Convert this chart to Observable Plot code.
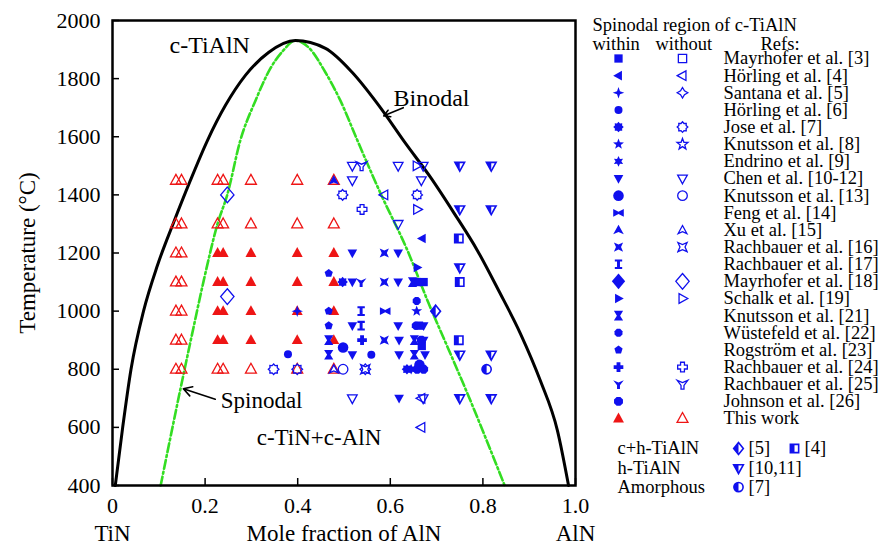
<!DOCTYPE html>
<html><head><meta charset="utf-8">
<script src="https://cdn.jsdelivr.net/npm/d3@7"></script>
<script src="https://cdn.jsdelivr.net/npm/@observablehq/plot@0.6"></script>
<style>
body{margin:0;background:#fff;}
#wrap{position:relative;width:879px;height:549px;background:#fff;}
#wrap svg, #wrap svg text{font-family:"Liberation Serif","Times New Roman",serif !important;}
#main{position:absolute;left:0;top:0;}
#legend{position:absolute;left:585px;top:0;}
</style></head><body><div id="wrap"><div id="main"></div><div id="legend"></div></div>
<script>
// ---------------- DATA ----------------
const xTicks = [0, 0.2, 0.4, 0.6, 0.8, 1.0];
const yTicks = [400, 600, 800, 1000, 1200, 1400, 1600, 1800, 2000];

const binodal = [[0.006,400],[0.022,600],[0.04,800],[0.067,1000],[0.097,1157],[0.132,1305],[0.168,1449],[0.205,1587],[0.244,1708],[0.287,1811],[0.337,1890],[0.395,1931],[0.46,1904],[0.518,1821],[0.575,1708],[0.633,1577],[0.687,1460],[0.737,1339],[0.788,1209],[0.834,1071],[0.881,923],[0.924,761],[0.961,589],[0.985,400]];
const spinodal = [[0.104,400],[0.147,734],[0.156,802],[0.175,944],[0.197,1105],[0.227,1301],[0.248,1401],[0.276,1587],[0.309,1725],[0.341,1835],[0.369,1897],[0.395,1931],[0.425,1905],[0.46,1821],[0.492,1725],[0.529,1587],[0.579,1405],[0.637,1209],[0.683,1026],[0.724,875],[0.762,734],[0.847,400]];

const refNames = ["Mayrhofer et al. [3]","Hörling et al. [4]","Santana et al. [5]","Hörling et al. [6]","Jose et al. [7]","Knutsson et al. [8]","Endrino et al. [9]","Chen et al. [10-12]","Knutsson et al. [13]","Feng et al. [14]","Xu et al. [15]","Rachbauer et al. [16]","Rachbauer et al. [17]","Mayrhofer et al. [18]","Schalk et al. [19]","Knutsson et al. [21]","Wüstefeld et al. [22]","Rogström et al. [23]","Rachbauer et al. [24]","Rachbauer et al. [25]","Johnson et al. [26]","This work"];

const mayrhofer3_in = [[0.658,1100],[0.672,1100],[0.662,950],[0.668,880]];
const mayrhofer3_out = [];
const horling4_in = [[0.669,1250]];
const horling4_out = [[0.587,1400],[0.667,700],[0.667,600]];
const santana5_in = [[0.399,1000]];
const santana5_out = [];
const horling6_in = [[0.379,852],[0.559,850]];
const jose7_in = [[0.497,1100],[0.636,800]];
const jose7_out = [[0.497,1400],[0.658,1400],[0.348,800],[0.399,800],[0.546,800]];
const knutsson8_in = [[0.657,1000]];
const knutsson8_out = [];
const endrino9_in = [[0.645,800]];
const chen_in = [[0.518,1200],[0.617,1200],[0.518,1100],[0.617,1100],[0.518,950],[0.617,950],[0.619,900],[0.518,850],[0.619,850],[0.619,700],[0.672,950],[0.672,900],[0.675,850]];
const chen_out = [[0.518,1500],[0.617,1500],[0.671,1500],[0.518,1450],[0.667,1450],[0.617,1300],[0.518,700],[0.671,700]];
const knutsson13_in = [[0.498,875],[0.663,815]];
const knutsson13_out = [[0.498,800]];
const feng14_in = [[0.589,1000]];
const xu15_in = [[0.478,1450]];
const xu15_out = [[0.478,800]];
const rach16_in = [[0.587,1200],[0.587,1100],[0.587,900]];
const rach16_out = [[0.546,800]];
const rach17_in = [[0.537,1000],[0.537,950]];
const mayrhofer18_in = [];
const mayrhofer18_out = [[0.248,1400],[0.248,1050]];
const schalk19_in = [[0.658,1150]];
const schalk19_out = [[0.657,1500],[0.658,1350]];
const knutsson21_in = [[0.467,900],[0.467,850],[0.652,900],[0.652,850],[0.648,1100]];
const wustefeld22_in = [[0.657,1035],[0.655,950]];
const rogstrom23_in = [[0.467,1130],[0.467,1000],[0.467,950]];
const rach24_in = [[0.539,900]];
const rach24_out = [[0.539,1350]];
const rach25_in = [[0.537,1100]];
const rach25_out = [[0.538,1500]];
const johnson26_in = [[0.667,900],[0.658,800],[0.672,800]];
const thisWork_in = [[0.227,1200],[0.239,1200],[0.299,1200],[0.399,1200],[0.478,1200],
  [0.227,1100],[0.239,1100],[0.299,1100],[0.399,1100],[0.478,1100],
  [0.227,1000],[0.239,1000],[0.299,1000],[0.399,1000],[0.478,1000],
  [0.227,900],[0.239,900],[0.299,900],[0.399,900],[0.478,900]];
const thisWork_out = [[0.137,1450],[0.149,1450],[0.227,1450],[0.239,1450],[0.299,1450],[0.399,1450],[0.478,1450],
  [0.137,1300],[0.149,1300],[0.227,1300],[0.239,1300],[0.299,1300],[0.399,1300],[0.478,1300],
  [0.137,1200],[0.149,1200],[0.137,1100],[0.149,1100],[0.137,1000],[0.149,1000],[0.137,900],[0.149,900],
  [0.137,800],[0.149,800],[0.227,800],[0.239,800],[0.299,800],[0.399,800],[0.478,800]];
const chTiAlN_5 = [[0.698,1000]];
const chTiAlN_4 = [[0.748,1250],[0.75,1100],[0.748,900]];
const hTiAlN_10_11 = [[0.75,1500],[0.818,1500],[0.75,1350],[0.818,1350],[0.75,1150],[0.75,850],[0.818,850],[0.75,700],[0.818,700]];
const amorphous_7 = [[0.808,800]];

// ---------------- SYMBOLS (style) ----------------
const BLUE = "#1010ee", RED = "#ee1515", GREEN = "#33dd22", FONT = "Liberation Serif";
function shape(...polys){
  return {draw(ctx,size){
    const r = Math.sqrt(size/Math.PI);
    for (const pts of polys){
      pts.forEach(([a,b],i)=> i ? ctx.lineTo(a*r,b*r) : ctx.moveTo(a*r,b*r));
      ctx.closePath();
    }
  }};
}
function starPts(n, ro, ri){ const p=[]; for(let i=0;i<2*n;i++){const a=-Math.PI/2+i*Math.PI/n, rr=i%2?ri:ro; p.push([rr*Math.cos(a), rr*Math.sin(a)]);} return p; }
function ngonPts(n, ro, rot=-Math.PI/2){ const p=[]; for(let i=0;i<n;i++){const a=rot+i*2*Math.PI/n; p.push([ro*Math.cos(a), ro*Math.sin(a)]);} return p; }
const SYM = {
  square: shape([[-0.9,-0.9],[0.9,-0.9],[0.9,0.9],[-0.9,0.9]]),
  halfSquare: shape([[-0.9,-0.9],[0,-0.9],[0,0.9],[-0.9,0.9]]),
  triUp: shape([[0,-1.15],[1.05,0.75],[-1.05,0.75]]),
  triDown: shape([[0,1.15],[1.05,-0.75],[-1.05,-0.75]]),
  halfTriDown: shape([[0,1.15],[-1.05,-0.75],[0,-0.75]]),
  triLeft: shape([[-1.15,0],[0.75,-1.05],[0.75,1.05]]),
  triRight: shape([[1.15,0],[-0.75,-1.05],[-0.75,1.05]]),
  diamond: shape([[0,-1.3],[1.05,0],[0,1.3],[-1.05,0]]),
  bigDiamond: shape([[0,-1.7],[1.45,0],[0,1.7],[-1.45,0]]),
  halfDiamond: shape([[0,-1.3],[0,1.3],[-1.05,0]]),
  star4: shape(starPts(4,1.25,0.45)),
  star4o: shape(starPts(4,1.15,0.6)),
  star5: shape(starPts(5,1.25,0.52)),
  hexagram: shape(starPts(6,1.15,0.62)),
  gear: shape(starPts(8,1.15,0.85)),
  pentagon: shape(ngonPts(5,1.05)),
  octagon: shape(ngonPts(8,1.05,Math.PI/8)),
  bowtie: shape([[-1.15,-0.85],[0,-0.25],[1.15,-0.85],[1.15,0.85],[0,0.25],[-1.15,0.85]]),
  hourglass: shape([[-1,-1.05],[1,-1.05],[0.35,0],[1,1.05],[-1,1.05],[-0.35,0]]),
  ibeam: shape([[-0.8,-1.05],[0.8,-1.05],[0.8,-0.6],[0.32,-0.6],[0.32,0.6],[0.8,0.6],[0.8,1.05],[-0.8,1.05],[-0.8,0.6],[-0.32,0.6],[-0.32,-0.6],[-0.8,-0.6]]),
  notchSquare: shape([[-1,-1],[0,-0.55],[1,-1],[0.55,0],[1,1],[0,0.55],[-1,1],[-0.55,0]]),
  roundCross: shape([[-0.42,-1.05],[0.42,-1.05],[0.42,-0.42],[1.05,-0.42],[1.05,0.42],[0.42,0.42],[0.42,1.05],[-0.42,1.05],[-0.42,0.42],[-1.05,0.42],[-1.05,-0.42],[-0.42,-0.42]]),
  wyeDown: shape([[-1.15,-0.85],[0,-0.35],[1.15,-0.85],[0.32,0.25],[0.32,1.05],[-0.32,1.05],[-0.32,0.25]]),
  xuTri: shape([[0,-1.15],[1.15,0.95],[0,0.45],[-1.15,0.95]]),
  circle: d3.symbolCircle,
  halfCircle: {draw(ctx,size){const r=Math.sqrt(size/Math.PI); ctx.moveTo(0,-r); ctx.arc(0,0,r,-Math.PI/2,Math.PI/2,true); ctx.closePath();}}
};
const F = (s, r=4.6, c=BLUE) => ({mode:"fill", s:SYM[s], r, c});
const O = (s, r=4.6, c=BLUE) => ({mode:"open", s:SYM[s], r, c});
const H = (s, h, r=4.6, c=BLUE) => ({mode:"half", s:SYM[s], h:SYM[h], r, c});

const inStyles = [F("square"),F("triLeft"),F("star4"),F("circle",4),F("gear"),F("star5"),F("hexagram"),F("triDown"),F("circle",5.3),F("bowtie"),F("xuTri"),F("notchSquare"),F("ibeam"),F("bigDiamond"),F("triRight"),F("hourglass"),F("octagon",4.1),F("pentagon",4.1),F("roundCross"),F("wyeDown"),F("octagon"),F("triUp",5.2,RED)];
const outStyles = [O("square"),O("triLeft"),O("star4o"),null,O("gear"),O("star5"),null,O("triDown"),O("circle",4.8),null,O("xuTri",3.8),O("notchSquare"),null,O("bigDiamond"),O("triRight"),null,null,null,O("roundCross"),O("wyeDown"),null,O("triUp",5.2,RED)];
const inData = [mayrhofer3_in,horling4_in,santana5_in,horling6_in,jose7_in,knutsson8_in,endrino9_in,chen_in,knutsson13_in,feng14_in,xu15_in,rach16_in,rach17_in,mayrhofer18_in,schalk19_in,knutsson21_in,wustefeld22_in,rogstrom23_in,rach24_in,rach25_in,johnson26_in,thisWork_in];
const outData = [mayrhofer3_out,horling4_out,santana5_out,[],jose7_out,knutsson8_out,[],chen_out,knutsson13_out,[],xu15_out,rach16_out,[],mayrhofer18_out,schalk19_out,[],[],[],rach24_out,rach25_out,[],thisWork_out];
const phaseStyles = [H("diamond","halfDiamond"), H("square","halfSquare"), H("triDown","halfTriDown"), H("circle","halfCircle")];

function dots(data, st){
  const base = {x: d=>d[0], y: d=>d[1], symbol: st.s, r: st.r};
  if (st.mode==="fill") return [Plot.dot(data, {...base, fill: st.c})];
  if (st.mode==="open") return [Plot.dot(data, {...base, fill:"white", fillOpacity:0, stroke: st.c, strokeWidth: 1.3})];
  return [Plot.dot(data, {...base, fill:"white", stroke: st.c, strokeWidth: 1.6}), Plot.dot(data, {...base, symbol: st.h, fill: st.c})];
}

// ---------------- MAIN CHART ----------------
const n = refNames.length;
const pointMarks = [];
pointMarks.push(...dots(thisWork_out, outStyles[n-1]), ...dots(thisWork_in, inStyles[n-1]));
for (let i=0;i<n-1;i++){
  if (outStyles[i] && outData[i].length) pointMarks.push(...dots(outData[i], outStyles[i]));
  if (inData[i].length) pointMarks.push(...dots(inData[i], inStyles[i]));
}
[chTiAlN_5, chTiAlN_4, hTiAlN_10_11, amorphous_7].forEach((d,i)=>pointMarks.push(...dots(d, phaseStyles[i])));

const main = Plot.plot({
  width: 590, height: 549,
  marginLeft: 112, marginRight: 15, marginTop: 20, marginBottom: 64,
  style: {fontFamily: FONT, fontSize: "22px", color: "black", background: "white", overflow: "visible"},
  x: {domain: [0, 1]},
  y: {domain: [400, 2000]},
  marks: [
    Plot.line(spinodal, {x: d=>d[0], y: d=>d[1], curve: "monotone-x", stroke: GREEN, strokeWidth: 2.6, strokeDasharray: "9,3,2,3"}),
    Plot.line(binodal, {x: d=>d[0], y: d=>d[1], curve: "monotone-x", stroke: "black", strokeWidth: 3}),
    ...pointMarks,
    Plot.arrow([{x1:0.628,y1:1700,x2:0.586,y2:1672}], {x1:"x1",y1:"y1",x2:"x2",y2:"y2", stroke:"black", strokeWidth:1.6, headLength:9}),
    Plot.arrow([{x1:0.222,y1:697,x2:0.153,y2:733}], {x1:"x1",y1:"y1",x2:"x2",y2:"y2", stroke:"black", strokeWidth:1.6, headLength:9}),
    Plot.text(["c-TiAlN"], {x: 0.21, y: 1914, fontSize: 24}),
    Plot.text(["Binodal"], {x: 0.689, y: 1732, fontSize: 24}),
    Plot.text(["Spinodal"], {x: 0.322, y: 692, fontSize: 23}),
    Plot.text(["c-TiN+c-AlN"], {x: 0.446, y: 565, fontSize: 23}),
    Plot.axisX({ticks: xTicks, tickFormat: d => d===0 ? "0" : d.toFixed(1), tickSize: -7, tickPadding: 19, label: null, fontSize: 22, strokeWidth: 1.5}),
    Plot.axisY({ticks: yTicks, tickFormat: d => String(d), tickSize: -7, tickPadding: 19, label: null, fontSize: 22, strokeWidth: 1.5}),
    Plot.frame({stroke: "black", strokeWidth: 2.5}),
    Plot.text(["Temperature (°C)"], {frameAnchor: "left", dx: -85, rotate: -90, textAnchor: "middle", fontSize: 23}),
    Plot.text(["Mole fraction of AlN"], {frameAnchor: "bottom", dy: 55, textAnchor: "middle", fontSize: 23}),
    Plot.text(["TiN"], {x: 0, frameAnchor: "bottom", dy: 55, fontSize: 23}),
    Plot.text(["AlN"], {x: 1, frameAnchor: "bottom", dy: 55, fontSize: 23})
  ]
});
document.getElementById("main").appendChild(main);

// ---------------- LEGEND ----------------
const legendHeader = ["Spinodal region of c-TiAlN", "within", "without", "Refs:"];
const phaseNames = ["c+h-TiAlN", "h-TiAlN", "Amorphous"];
const phaseRefs = ["[5]", "[4]", "[10,11]", "[7]"];
const colIn = 33, colOut = 97, colText = 138;
const legMarks = [];
refNames.forEach((name,i)=>{
  legMarks.push(...dots([[colIn,i]], inStyles[i]));
  if (outStyles[i]) legMarks.push(...dots([[colOut,i]], outStyles[i]));
});
legMarks.push(Plot.text(refNames, {x: colText, y: (d,i)=>i, textAnchor: "start", fontSize: 18.5}));
legMarks.push(Plot.text([legendHeader[0]], {x: 7, y: -1.95, textAnchor: "start", fontSize: 18.5}));
legMarks.push(Plot.text(legendHeader.slice(1), {x: [7, 70, 175], y: -0.85, textAnchor: "start", fontSize: 18.5}));
legMarks.push(Plot.text(phaseNames, {x: 32, y: [22.75, 23.9, 25.0], textAnchor: "start", fontSize: 18.5}));
const phaseSymPos = [[153,22.75],[209,22.75],[153,23.9],[153,25.0]];
phaseSymPos.forEach((p,i)=>legMarks.push(...dots([p], phaseStyles[i])));
legMarks.push(Plot.text(phaseRefs, {x: [163,219,163,163], y: [22.75,22.75,23.9,25.0], textAnchor: "start", fontSize: 18.5}));

const legend = Plot.plot({
  width: 294, height: 549, margin: 0,
  style: {fontFamily: FONT, fontSize: "18px", color: "black", background: "transparent", overflow: "visible"},
  x: {domain: [0, 294], range: [0, 294], axis: null},
  y: {domain: [0, 21], range: [58, 418], axis: null},
  marks: legMarks
});
document.getElementById("legend").appendChild(legend);
</script></body></html>
